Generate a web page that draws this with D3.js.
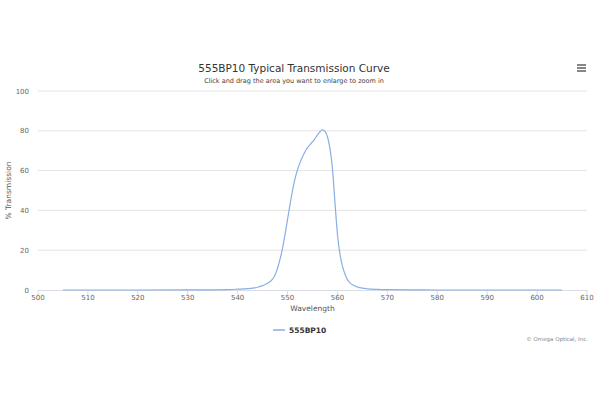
<!DOCTYPE html>
<html><head><meta charset="utf-8">
<script src="https://cdn.jsdelivr.net/npm/d3@7/dist/d3.min.js"></script>
<style>html,body{margin:0;padding:0;background:#fff}svg{display:block}text{font-family:"DejaVu Sans",Verdana,sans-serif}</style>
</head><body>
<svg id="c" width="600" height="400"></svg>
<script>
const wavelengths = [505,510,520,530,535,538,540,542,543,544,545,546,547,547.5,548,548.5,549,549.5,550,550.5,551,551.5,552,552.5,553,553.5,554,554.5,555,555.5,556,556.5,557,557.5,558,558.5,559,559.5,560,560.5,561,561.5,562,562.5,563,564,565,566,568,570,575,580,590,600,605];
const transmission = [0,0,0,0.05,0.1,0.2,0.4,0.65,0.9,1.4,2.2,3.4,5.5,7.5,11,15.5,21,28,35.5,43,50,56,60.5,64,67,69.5,71.5,73,74.5,76,78,79.5,80.5,79.7,77,71,61,44,28,18,12,8,5.2,3.6,2.6,1.5,0.9,0.6,0.3,0.15,0.05,0,0,0,0];
const xTicks = [500,510,520,530,540,550,560,570,580,590,600,610];
const yTicks = [0,20,40,60,80,100];
const seriesName = "555BP10";

const svg = d3.select("#c");
const L = 38, R = 587, T = 91, B = 290;
const x = d3.scaleLinear().domain([500,610]).range([L,R]);
const y = d3.scaleLinear().domain([0,100]).range([B,T]);

// grid
svg.append("g").selectAll("line").data(yTicks.filter(d=>d>0)).join("line")
  .attr("x1",L).attr("x2",R).attr("y1",d=>y(d)).attr("y2",d=>y(d))
  .attr("stroke","#e3e3e3").attr("stroke-width",1);

// y labels
svg.append("g").selectAll("text").data(yTicks).join("text")
  .attr("x",L-9).attr("y",d=>y(d)+2.5).attr("text-anchor","end")
  .attr("font-size",7).attr("fill","#666").text(d=>d);

// x axis
svg.append("line").attr("x1",L).attr("x2",R).attr("y1",B+0.5).attr("y2",B+0.5).attr("stroke","#d8dde8");
svg.append("g").selectAll("line").data(xTicks).join("line")
  .attr("x1",d=>x(d)).attr("x2",d=>x(d)).attr("y1",B).attr("y2",B+5).attr("stroke","#d8dde8");
svg.append("g").selectAll("text").data(xTicks).join("text")
  .attr("x",d=>x(d)).attr("y",B+10).attr("text-anchor","middle")
  .attr("font-size",7).attr("fill","#666").text(d=>d);

// axis titles
svg.append("text").attr("x",(L+R)/2).attr("y",311).attr("text-anchor","middle")
  .attr("font-size",7.5).attr("fill","#555").text("Wavelength");
svg.append("text").attr("transform",`translate(11,${(T+B)/2}) rotate(-90)`).attr("text-anchor","middle")
  .attr("font-size",7.5).attr("fill","#555").text("% Transmission");

// title
svg.append("text").attr("x",294).attr("y",72).attr("text-anchor","middle")
  .attr("font-size",10.5).attr("fill","#333").text("555BP10 Typical Transmission Curve");
svg.append("text").attr("x",294).attr("y",83).attr("text-anchor","middle")
  .attr("font-size",6.5).attr("fill","#444").text("Click and drag the area you want to enlarge to zoom in");

// line
const data = wavelengths.map((w,i)=>[w,transmission[i]]);
svg.append("path").datum(data)
  .attr("d", d3.line().x(d=>x(d[0])).y(d=>y(d[1])).curve(d3.curveMonotoneX))
  .attr("fill","none").attr("stroke","#8aaee2").attr("stroke-width",1.2);

// legend
svg.append("line").attr("x1",273).attr("x2",285).attr("y1",330).attr("y2",330).attr("stroke","#8aaee2").attr("stroke-width",1.5);
svg.append("text").attr("x",289).attr("y",333).attr("font-size",7.5).attr("font-weight","bold").attr("fill","#333").text(seriesName);

// credits
svg.append("text").attr("x",588).attr("y",341).attr("text-anchor","end")
  .attr("font-size",5.5).attr("fill","#888").text("© Omega Optical, Inc.");

// menu icon
svg.append("g").selectAll("line").data([0,1,2]).join("line")
  .attr("x1",577).attr("x2",586).attr("y1",d=>65+d*3).attr("y2",d=>65+d*3)
  .attr("stroke","#444").attr("stroke-width",1.3);
</script>
</body></html>
